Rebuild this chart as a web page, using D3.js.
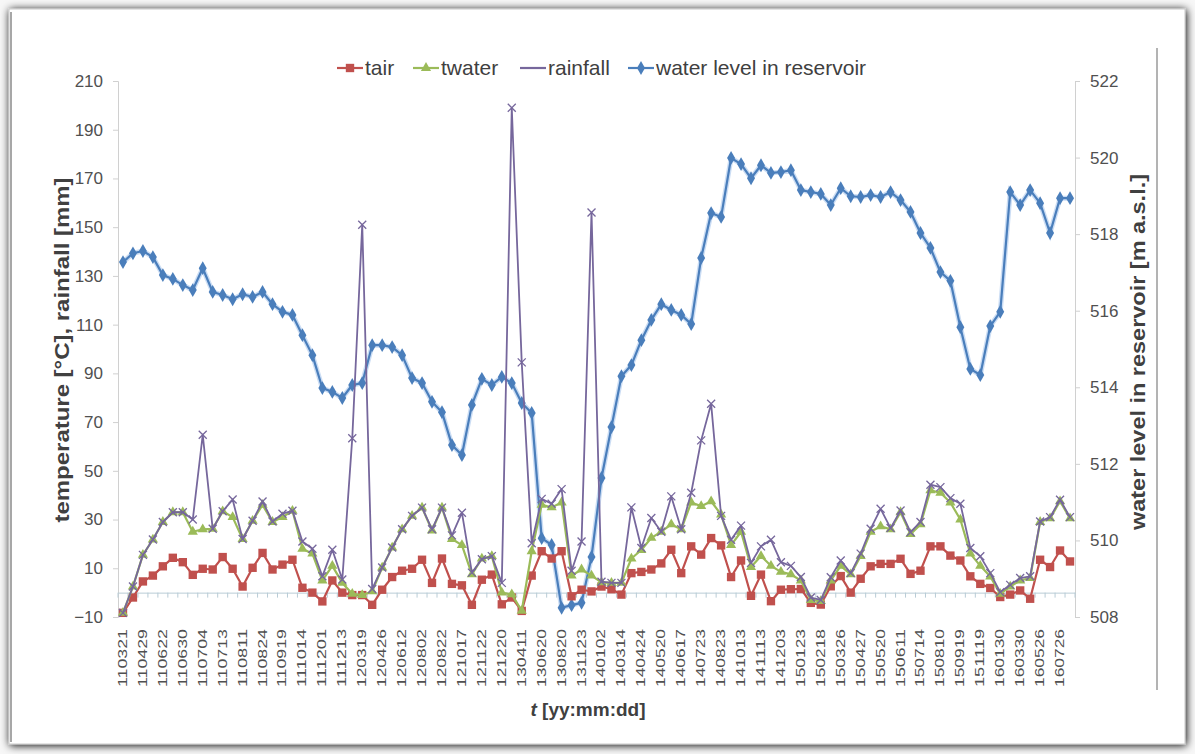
<!DOCTYPE html>
<html>
<head>
<meta charset="utf-8">
<script src="https://cdn.jsdelivr.net/npm/d3@7/dist/d3.min.js"></script>
<style>
  html, body { margin: 0; padding: 0; background: #fff; }
  svg { display: block; }
  text { font-family: "Liberation Sans Narrow", "Liberation Sans", Arial, sans-serif; }
</style>
</head>
<body>
<svg id="chart" width="1195" height="754"></svg>
<script>
// ---- data ----
const dateLabels = ["110321","110429","110622","110630","110704","110713","110811","110824","110919","111014",
  "111201","111213","120319","120426","120612","120802","120822","121017","121122","121220",
  "130411","130620","130820","131123","140102","140314","140424","140520","140617","140723",
  "140823","141013","141113","141203","150123","150218","150326","150427","150520","150611",
  "150714","150810","150919","151119","160130","160330","160526","160726"];

const tair = [-8.3,-2,4.6,7,10.8,14.3,12.5,7.3,9.8,9.5,14.6,9.8,2.5,10.2,16.3,9.5,11.5,13.5,2,0,
  -3.6,5,0,-1,-1,-5,1.2,6.4,9,9.8,13.5,4,14,3.6,3,-5,5.3,7.4,-4.8,-2,
  -7.5,7,17,14,17,-1.5,1.2,0.5,2.5,1.4,-0.8,8,8.5,9.5,12,17.6,8,19,15.6,22.4,
  19.4,6.4,13.2,-1.3,7.4,-3.5,1.2,1.4,1.5,-4.2,-4.9,2.6,6.8,0,5.7,10.8,11.8,11.8,13.9,7.7,
  9,19,19,15.2,13.2,6.7,3.6,1.9,-1.8,-0.8,0.9,-2.5,13.5,10.5,17.3,12.8];

const twater = [-8.3,2.5,15.5,21.8,29,33,33,25,26,26.2,33.4,31,22,29.5,36,29,31,33.6,18,16,
  5,11,4,-0.5,-1,0.5,10.3,18.5,26,31.5,34.9,25.5,34.9,22,19.5,7.5,14,15,0,-0.7,
  -7.5,17,36,35,37,7,9.5,7,4.2,4,4,14,17.5,22.5,25,28,26,37,35.5,37.5,
  32,19.5,25,10.5,15,11,8.5,7.5,5,-3,-3.5,5,11,7.5,15,25,27.2,26,33,24,
  28,42,41,37,30,16,11,6.6,-0.5,2.5,5,6,29,30.5,37.5,30.5];

const rainfall = [-8.3,2.5,15.5,21.8,29,33,33,30,64.8,26.2,33.4,38.2,22,29.5,37.4,29.2,32.4,33.6,21,18,
  6.7,17.6,5.4,63.4,151,1.5,10.3,18.5,26,31.5,34.9,26,34.9,23.5,32.8,8.2,13.7,15,4,199,
  94.5,20.3,38.5,36.5,42.5,9,21,156,4.5,4,4,35,18.3,30.6,25,39.5,26,41,62.5,77.5,
  31.5,21.7,27.5,12.2,19,21.7,12.5,11,6.4,-2,-3,6.3,13.2,8,16,26.2,34.4,26.5,33.7,24.8,
  29,44.3,43.3,38.8,36.5,18.3,14.9,8,0.2,3.2,6,6.7,29.2,31,38.1,31];

const waterLevel = [517.27,517.5,517.56,517.4,516.93,516.83,516.67,516.54,517.11,516.49,516.41,516.3,516.43,516.36,516.49,516.17,515.97,515.89,515.36,514.84,
  513.98,513.88,513.72,514.06,514.11,515.1,515.1,515.05,514.84,514.24,514.11,513.62,513.35,512.49,512.23,513.54,514.22,514.06,514.27,514.11,
  513.59,513.33,510.06,509.88,508.24,508.31,508.37,509.57,511.63,512.96,514.29,514.58,515.23,515.76,516.17,516.02,515.89,515.65,517.38,518.55,
  518.45,519.99,519.83,519.46,519.8,519.6,519.62,519.67,519.15,519.1,519.05,518.76,519.2,518.99,518.97,519.02,518.97,519.1,518.89,518.58,
  518.03,517.64,517.01,516.78,515.57,514.48,514.32,515.6,515.97,519.1,518.76,519.15,518.81,518.03,518.94,518.94];

const leftTicks = [-10,10,30,50,70,90,110,130,150,170,190,210];
const rightTicks = [508,510,512,514,516,518,520,522];

const seriesNames = ["tair","twater","rainfall","water level in reservoir"];
const colors = {tair:"#C0504D", twater:"#9BBB59", rainfall:"#76679C", level:"#4A7EBB"};

// ---- layout ----
const svg = d3.select("#chart");
const W = 1195, H = 754;
const plot = {left:118, right:1075, top:81, bottom:617};

// frame / background
const defs = svg.append("defs");
const f = defs.append("filter").attr("id","shadow").attr("x","-5%").attr("y","-5%").attr("width","110%").attr("height","110%");
f.append("feGaussianBlur").attr("in","SourceAlpha").attr("stdDeviation",4);
f.append("feOffset").attr("dx",1).attr("dy",1).attr("result","b");
const fm = f.append("feMerge"); fm.append("feMergeNode").attr("in","b"); fm.append("feMergeNode").attr("in","SourceGraphic");

svg.append("rect").attr("width",W).attr("height",H).attr("fill","#f7f7f7");
svg.append("rect").attr("x",9).attr("y",9).attr("width",1176).attr("height",735)
  .attr("fill","#fff").attr("stroke","#c8c8c8").attr("filter","url(#shadow)");
svg.append("line").attr("x1",11).attr("x2",11).attr("y1",12).attr("y2",742).attr("stroke","#8a8a8a").attr("stroke-width",1.5);
svg.append("line").attr("x1",1157).attr("x2",1157).attr("y1",48).attr("y2",690).attr("stroke","#9a9a9a").attr("stroke-width",1.5);

// scales
const idx = d3.range(tair.length);
const x = d3.scaleBand().domain(idx).range([plot.left, plot.right]);
const cx = i => x(i) + x.bandwidth()/2;
const yL = d3.scaleLinear().domain([-10,210]).range([plot.bottom, plot.top]);
const yR = d3.scaleLinear().domain([508,522]).range([plot.bottom, plot.top]);

// left axis
const gL = svg.append("g").attr("transform",`translate(${plot.left},0)`)
  .call(d3.axisLeft(yL).tickValues(leftTicks).tickSize(5).tickPadding(10));
gL.select(".domain").attr("stroke","#d0d0d0");
gL.selectAll(".tick line").attr("stroke","#d0d0d0");
gL.selectAll(".tick text").attr("fill","#505050").style("font-size","17px");

// right axis
const gR = svg.append("g").attr("transform",`translate(${plot.right},0)`)
  .call(d3.axisRight(yR).tickValues(rightTicks).tickSize(5).tickPadding(10));
gR.select(".domain").attr("stroke","#d0d0d0");
gR.selectAll(".tick line").attr("stroke","#d0d0d0");
gR.selectAll(".tick text").attr("fill","#505050").style("font-size","17px");

// x axis line at zero with category ticks
const gX = svg.append("g").attr("transform",`translate(0,${yL(0)})`)
  .call(d3.axisBottom(x).tickValues([]).tickSizeOuter(0));
gX.select(".domain").attr("stroke","#b9ccd6");
svg.append("g").selectAll("line").data(idx.concat([idx.length])).join("line")
  .attr("x1",i => plot.left + i*x.bandwidth()).attr("x2",i => plot.left + i*x.bandwidth())
  .attr("y1",yL(0)).attr("y2",yL(0)+5).attr("stroke","#b9ccd6");

// x labels at bottom (every second category)
svg.append("g").selectAll("text").data(dateLabels).join("text")
  .attr("transform",(d,k) => `translate(${cx(2*k)+4},${plot.bottom+12}) rotate(-90)`)
  .attr("text-anchor","end")
  .attr("textLength",58).attr("lengthAdjust","spacingAndGlyphs")
  .attr("fill","#505050").style("font-size","12px")
  .text(d => d);

// axis titles
svg.append("text").attr("transform",`translate(69,${(plot.top+plot.bottom)/2 + 1}) rotate(-90)`)
  .attr("text-anchor","middle").style("font-size","20px").style("font-weight","bold").attr("fill","#404040")
  .attr("textLength",345).attr("lengthAdjust","spacingAndGlyphs")
  .text("temperature [°C], rainfall [mm]");
svg.append("text").attr("transform",`translate(1145,${(plot.top+plot.bottom)/2 + 3}) rotate(-90)`)
  .attr("text-anchor","middle").style("font-size","20px").style("font-weight","bold").attr("fill","#404040")
  .attr("textLength",356).attr("lengthAdjust","spacingAndGlyphs")
  .text("water level in reservoir [m a.s.l.]");
const xt = svg.append("text").attr("x",588).attr("y",716).attr("text-anchor","middle")
  .style("font-size","19px").style("font-weight","bold").attr("fill","#404040");
xt.append("tspan").style("font-style","italic").text("t");
xt.append("tspan").text(" [yy:mm:dd]");

// markers
const sq = d3.symbol().type(d3.symbolSquare).size(70);
const tri = d3.symbol().type(d3.symbolTriangle).size(45);
const dia = d3.symbol().type(d3.symbolDiamond).size(55);

function drawLine(data, yS, color, w) {
  svg.append("path").datum(data)
    .attr("fill","none").attr("stroke",color).attr("stroke-width",w).attr("stroke-linejoin","round")
    .attr("d", d3.line().x((d,i) => cx(i)).y(d => yS(d)));
}
function drawXMarks(data, yS, color) {
  svg.append("g").selectAll("path").data(data).join("path")
    .attr("transform",(d,i) => `translate(${cx(i)},${yS(d)})`)
    .attr("d","M-4,-4L4,4M-4,4L4,-4").attr("stroke",color).attr("stroke-width",1.3).attr("fill","none");
}
function drawSymbols(data, yS, sym, color) {
  svg.append("g").selectAll("path").data(data).join("path")
    .attr("transform",(d,i) => `translate(${cx(i)},${yS(d)})`)
    .attr("d",sym).attr("fill",color);
}

// water level (right axis)
svg.append("path").datum(waterLevel).attr("fill","none").attr("stroke","#a9c6ec").attr("stroke-width",5).attr("opacity",0.6)
  .attr("d", d3.line().x((d,i) => cx(i)).y(d => yR(d)));
drawLine(waterLevel, yR, colors.level, 2.2);
drawSymbols(waterLevel, yR, dia, colors.level);

// tair
drawLine(tair, yL, colors.tair, 2.2);
drawSymbols(tair, yL, sq, colors.tair);
// twater
drawLine(twater, yL, colors.twater, 2.2);
drawSymbols(twater, yL, tri, colors.twater);
// rainfall
drawLine(rainfall, yL, colors.rainfall, 1.8);
drawXMarks(rainfall, yL, colors.rainfall);

// legend
const leg = svg.append("g").style("font-size","21px");
const items = [
  {name:seriesNames[0], x0:337, color:colors.tair, sym:sq},
  {name:seriesNames[1], x0:413, color:colors.twater, sym:tri},
  {name:seriesNames[2], x0:520, color:colors.rainfall, sym:null},
  {name:seriesNames[3], x0:628, color:colors.level, sym:dia}
];
const ly = 68;
items.forEach(it => {
  leg.append("line").attr("x1",it.x0).attr("x2",it.x0+26).attr("y1",ly).attr("y2",ly)
    .attr("stroke",it.color).attr("stroke-width",2.2);
  if (it.sym) leg.append("path").attr("transform",`translate(${it.x0+13},${ly})`).attr("d",it.sym).attr("fill",it.color);
  leg.append("text").attr("x",it.x0+28).attr("y",ly+7).attr("fill","#404040").text(it.name);
});
</script>
</body>
</html>
